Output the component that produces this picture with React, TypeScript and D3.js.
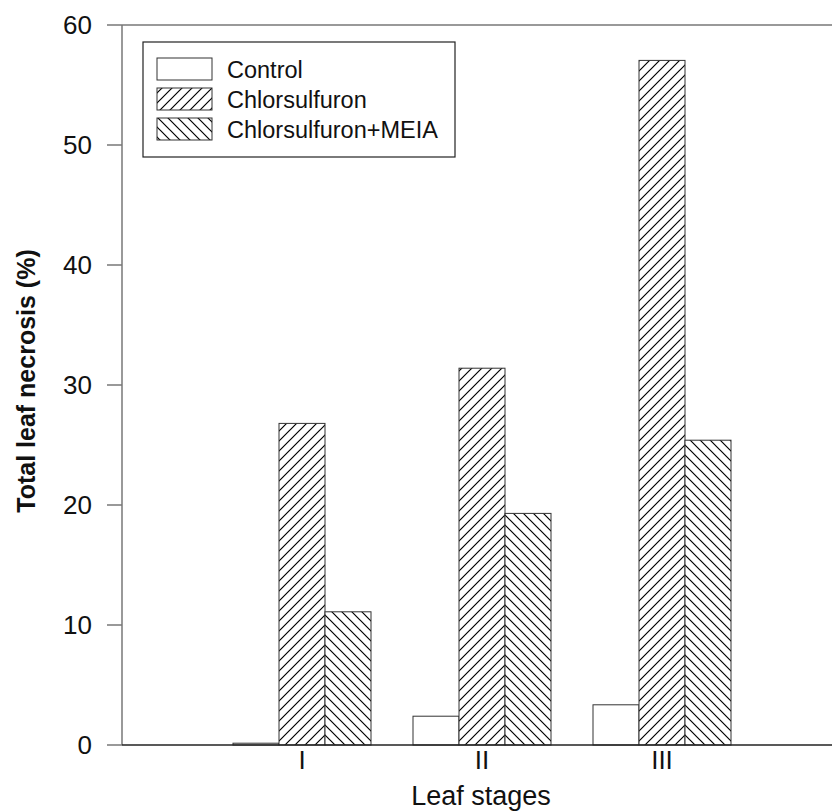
import React, { useEffect } from 'react';
import * as d3 from 'd3';

const W = 832;
const H = 811;

// data
const stages = ['I', 'II', 'III'];
const series = ['Control', 'Chlorsulfuron', 'Chlorsulfuron+MEIA'];
const control = [0.15, 2.4, 3.35];
const chlorsulfuron = [26.8, 31.4, 57.05];
const chlorMeia = [11.1, 19.3, 25.4];
const yTicks = [0, 10, 20, 30, 40, 50, 60];

const values = [control, chlorsulfuron, chlorMeia];
const fills = ['#fff', 'url(#hatchUp)', 'url(#hatchDown)'];

const font = '"Liberation Sans", Arial, Helvetica, sans-serif';

const App = () => {
  useEffect(() => {
    document.body.style.margin = '0';
  }, []);

  const x = d3.scaleLinear().domain([0, 4]).range([122, 842]);
  const y = d3.scaleLinear().domain([0, 60]).range([745, 25]);
  const inner = d3.scaleBand().domain(series).range([-69, 69]);

  const legendY = d3.scaleBand().domain(series).range([54, 144]);

  return (
    <svg width={W} height={H} style={{ display: 'block', background: '#fff' }} fontFamily={font}>
      <defs>
        <pattern id="hatchUp" patternUnits="userSpaceOnUse" width={10} height={10}>
          <rect width={10} height={10} fill="#fff" />
          <path d="M-2,2 L2,-2 M0,10 L10,0 M8,12 L12,8" stroke="#000" strokeWidth={1.2} />
        </pattern>
        <pattern id="hatchDown" patternUnits="userSpaceOnUse" width={10} height={10}>
          <rect width={10} height={10} fill="#fff" />
          <path d="M-2,8 L2,12 M0,0 L10,10 M8,-2 L12,2" stroke="#000" strokeWidth={1.2} />
        </pattern>
      </defs>

      {/* bars */}
      {values.map((vals, si) =>
        vals.map((v, gi) => {
          const x0 = x(gi + 1) + (inner(series[si]) as number);
          return (
            <rect
              key={`${si}-${gi}`}
              x={x0}
              y={y(v)}
              width={inner.bandwidth()}
              height={y(0) - y(v)}
              fill={fills[si]}
              stroke="#333"
              strokeWidth={1}
            />
          );
        })
      )}

      {/* frame lines */}
      <line x1={x(0)} x2={W} y1={y(60)} y2={y(60)} stroke="#777" strokeWidth={1.5} />
      <line x1={x(0)} x2={x(0)} y1={y(60)} y2={y(0)} stroke="#777" strokeWidth={1.5} />
      <line x1={x(0)} x2={W} y1={y(0)} y2={y(0)} stroke="#222" strokeWidth={1.5} />

      {/* y ticks */}
      {yTicks.map(t => (
        <g key={t} transform={`translate(0,${y(t)})`}>
          <line x1={107} x2={x(0)} stroke="#777" strokeWidth={1.5} />
          <text x={92} dy="0.36em" textAnchor="end" fontSize={26} fill="#111">{t}</text>
        </g>
      ))}

      {/* x tick labels */}
      {stages.map((s, i) => (
        <text key={s} x={x(i + 1)} y={769} textAnchor="middle" fontSize={26} fill="#111">{s}</text>
      ))}

      <text x={481} y={805} textAnchor="middle" fontSize={27} fill="#111">Leaf stages</text>
      <text
        transform={`translate(35,381) rotate(-90)`}
        textAnchor="middle"
        fontSize={25}
        fontWeight="bold"
        fill="#111"
      >
        Total leaf necrosis (%)
      </text>

      {/* legend */}
      <rect x={143} y={42} width={312} height={115} fill="#fff" stroke="#222" strokeWidth={1.2} />
      {series.map((s, i) => {
        const ly = (legendY(s) as number) + 4;
        return (
          <g key={s}>
            <rect x={157} y={ly} width={55} height={22} fill={fills[i]} stroke="#333" strokeWidth={1} />
            <text x={227} y={ly + 20} fontSize={23.5} fill="#111">{s}</text>
          </g>
        );
      })}
    </svg>
  );
};

export default App;
